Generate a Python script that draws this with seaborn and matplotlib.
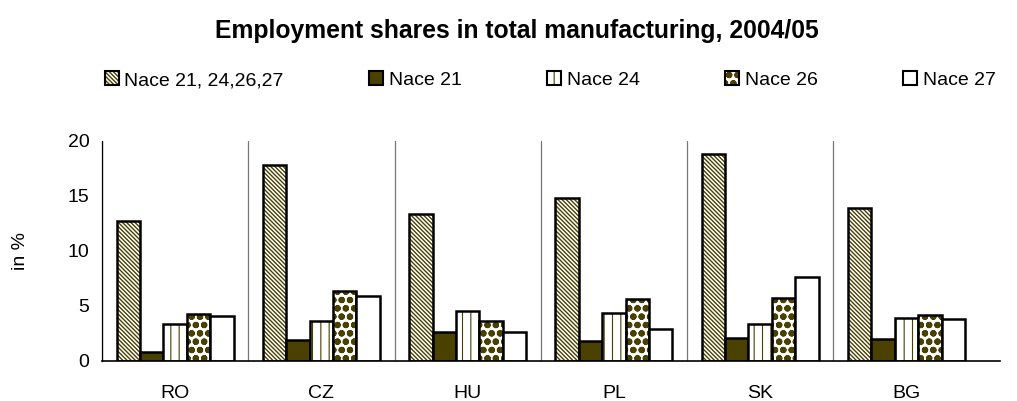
import numpy as np
import pandas as pd
import seaborn as sns
import matplotlib.pyplot as plt
from matplotlib.patches import Patch
from matplotlib.colors import to_rgba

# datos
paises = ["RO", "CZ", "HU", "PL", "SK", "BG"]
series = ["Nace 21, 24,26,27", "Nace 21", "Nace 24", "Nace 26", "Nace 27"]
nace_total = [12.7, 17.8, 13.4, 14.8, 18.8, 13.9]
nace_21 = [0.85, 1.9, 2.6, 1.8, 2.1, 2.0]
nace_24 = [3.4, 3.6, 4.5, 4.4, 3.4, 3.9]
nace_26 = [4.3, 6.4, 3.6, 5.6, 5.7, 4.2]
nace_27 = [4.1, 5.9, 2.6, 2.9, 7.6, 3.8]

valores = [nace_total, nace_21, nace_24, nace_26, nace_27]
filas = []
for s, vals in zip(series, valores):
    for p, v in zip(paises, vals):
        filas.append({"pais": p, "serie": s, "valor": v})
datos = pd.DataFrame(filas)

olivo = "#4a4000"
relleno = ["white", olivo, "white", "white", "white"]
tramas = ["\\" * 8, None, "||", "oo", None]
grosor_trama = [1.0, 1.0, 0.8, 2.2, 1.0]

sns.set_style("white")
plt.rcParams["font.family"] = ["Liberation Sans", "DejaVu Sans"]
for k in ["text.color", "axes.labelcolor", "xtick.color", "ytick.color"]:
    plt.rcParams[k] = "black"


def poner_trama(p, trama, grosor):
    p.set_hatch(trama)
    p._hatch_color = to_rgba(olivo)
    if hasattr(p, "set_hatch_linewidth"):
        p.set_hatch_linewidth(grosor)
    else:
        p._hatch_linewidth = grosor


fig = plt.figure(figsize=(10.17, 4.01), dpi=100)
ax = fig.add_axes([0.1003, 0.1, 0.883, 0.5485])

sns.barplot(data=datos, x="pais", y="valor", hue="serie", order=paises,
            hue_order=series, palette=relleno, width=0.8, ax=ax,
            edgecolor="black", linewidth=1.8, legend=False, saturation=1)

# tramas olivo sobre las barras
for cont, trama, g in zip(ax.containers, tramas, grosor_trama):
    for p in cont:
        if trama:
            poner_trama(p, trama, g)

ax.set_ylim(0, 20)
ax.set_xlim(-0.5, len(paises) - 0.36)
ax.set_yticks([0, 5, 10, 15, 20])
ax.set_xticks(np.arange(-0.5, len(paises) - 1), minor=True)
ax.tick_params(axis="x", which="major", length=0, pad=17, labelsize=14)
ax.tick_params(axis="x", which="minor", length=7, width=0.8, color="#555555", direction="out")
ax.tick_params(axis="y", length=5, width=0.8, direction="out", labelsize=14, pad=4)
ax.grid(which="minor", axis="x", color="#777777", linewidth=0.9)
ax.set_axisbelow(True)
ax.set_xlabel("")
ax.set_ylabel("in %", fontsize=14, labelpad=28)
for lado in ["top", "right"]:
    ax.spines[lado].set_visible(False)
ax.spines["left"].set_color("black")
ax.spines["bottom"].set_color("black")
ax.spines["left"].set_linewidth(0.9)
ax.spines["bottom"].set_linewidth(1.2)

# leyenda
manijas = []
for s, c in zip(series, relleno):
    h = Patch(facecolor=c, edgecolor="black", linewidth=1.5, label=s)
    manijas.append(h)
ley = fig.legend(handles=manijas, loc="center", bbox_to_anchor=(0.541, 0.8), ncol=5,
                 frameon=False, fontsize=14, handlelength=0.7, handleheight=0.7,
                 handletextpad=0.3, columnspacing=4.4, borderpad=0)
for h, t, g in zip(ley.get_patches(), tramas, grosor_trama):
    if t:
        poner_trama(h, t, g)

fig.text(0.508, 0.922, "Employment shares in total manufacturing, 2004/05", fontsize=17.8,
         fontweight="bold", ha="center", va="center")

fig.savefig("out.png", dpi=100)
